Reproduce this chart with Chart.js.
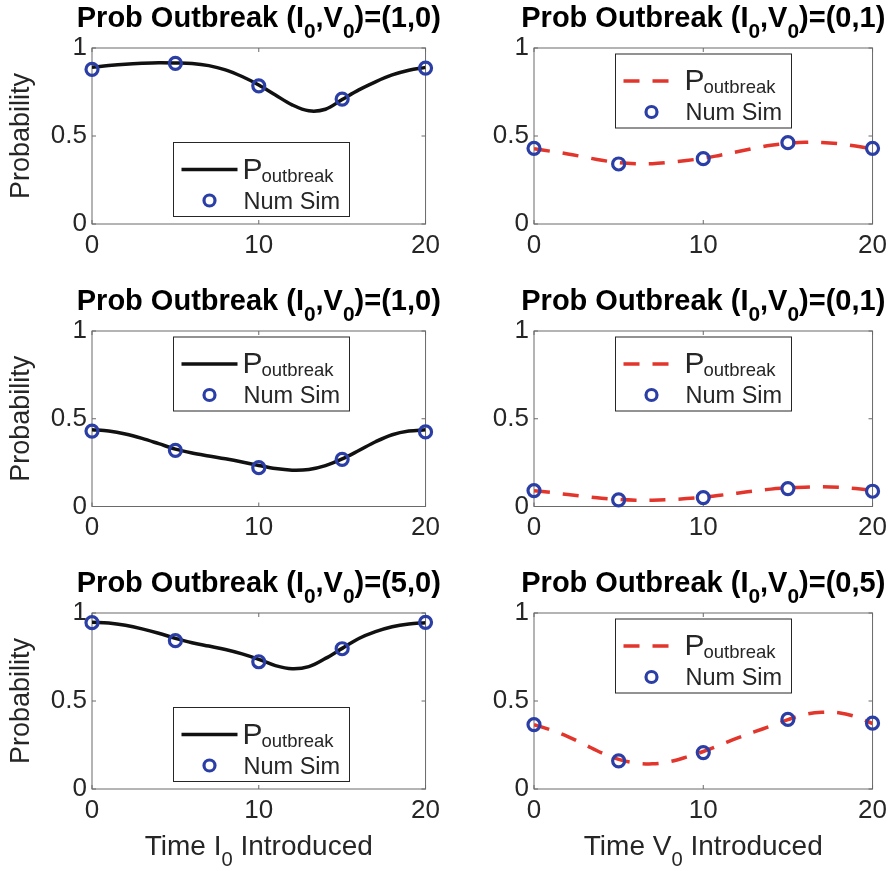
<!DOCTYPE html>
<html>
<head>
<meta charset="utf-8">
<script src="https://cdn.jsdelivr.net/npm/chart.js@4.4.1/dist/chart.umd.min.js"></script>
<style>
  html, body { margin: 0; padding: 0; background: #fff; }
  #fig { position: relative; width: 893px; height: 871px; overflow: hidden; }
  #fig canvas { position: absolute; }
</style>
</head>
<body>
<div id="fig"></div>
<script>
// x positions
const simTimes = [0, 5, 10, 15, 20];
const curveTimes = [0, 1, 2, 3, 4, 5, 6, 7, 8, 9, 10, 11, 12, 13, 14, 15, 16, 17, 18, 19, 20];

// (I0,V0)=(1,0), top left
const curveA = [0.890, 0.900, 0.908, 0.913, 0.916, 0.915, 0.912, 0.900, 0.876, 0.838, 0.790, 0.733, 0.677, 0.643, 0.652, 0.707, 0.762, 0.808, 0.847, 0.874, 0.890];
const simA = [0.879, 0.913, 0.785, 0.710, 0.886];
// (0,1), top right
const curveB = [0.427, 0.413, 0.398, 0.380, 0.362, 0.349, 0.343, 0.343, 0.351, 0.361, 0.373, 0.391, 0.410, 0.430, 0.447, 0.458, 0.464, 0.463, 0.456, 0.443, 0.426];
const simB = [0.430, 0.341, 0.371, 0.462, 0.430];
// (1,0), middle left
const curveC = [0.438, 0.430, 0.413, 0.388, 0.358, 0.327, 0.305, 0.288, 0.272, 0.254, 0.234, 0.216, 0.207, 0.211, 0.233, 0.271, 0.319, 0.369, 0.409, 0.430, 0.437];
const simC = [0.430, 0.320, 0.221, 0.269, 0.425];
// (0,1), middle right
const curveD = [0.090, 0.080, 0.068, 0.057, 0.047, 0.040, 0.036, 0.036, 0.039, 0.045, 0.052, 0.064, 0.076, 0.088, 0.099, 0.106, 0.110, 0.112, 0.109, 0.102, 0.092];
const simD = [0.091, 0.038, 0.051, 0.102, 0.087];
// (5,0), bottom left
const curveE = [0.948, 0.943, 0.930, 0.910, 0.885, 0.856, 0.831, 0.812, 0.793, 0.768, 0.737, 0.701, 0.683, 0.695, 0.742, 0.799, 0.855, 0.894, 0.922, 0.938, 0.945];
const simE = [0.945, 0.843, 0.723, 0.797, 0.947];
// (0,5), bottom right
const curveF = [0.366, 0.335, 0.298, 0.252, 0.205, 0.168, 0.148, 0.143, 0.155, 0.181, 0.213, 0.250, 0.289, 0.324, 0.358, 0.394, 0.424, 0.436, 0.433, 0.411, 0.372];
const simF = [0.366, 0.160, 0.207, 0.396, 0.374];

const initPairs = ['(1,0)', '(0,1)', '(1,0)', '(0,1)', '(5,0)', '(0,5)'];
const xTicks = [0, 10, 20];
const yTicks = [0, 0.5, 1];

const FONT = '"Liberation Sans", Arial, Helvetica, sans-serif';
const BLUE = '#2a3ea6';
const RED = '#e2352b';
const BLACK = '#111111';
const AXIS = '#6a6a6a';
const TEXT = '#262626';

// draw text with subscript parts, e.g. [['Time I'], ['0', true], [' Introduced']]
function richText(ctx, parts, x, y, size, weight, align) {
  const subSize = size * 0.72;
  const fontOf = sub => weight + ' ' + (sub ? subSize : size) + 'px ' + FONT;
  let w = 0;
  parts.forEach(p => { ctx.font = fontOf(p[1]); w += ctx.measureText(p[0]).width; });
  let cx = align === 'center' ? x - w / 2 : x;
  ctx.textAlign = 'left';
  ctx.textBaseline = 'alphabetic';
  parts.forEach(p => {
    ctx.font = fontOf(p[1]);
    ctx.fillText(p[0], cx, p[1] ? y + size * 0.38 : y);
    cx += ctx.measureText(p[0]).width;
  });
}

const panelDeco = {
  id: 'panelDeco',
  beforeDatasetsDraw(chart) {
    const { ctx, chartArea: a, scales } = chart;
    ctx.save();
    ctx.strokeStyle = AXIS;
    ctx.lineWidth = 1;
    ctx.strokeRect(a.left, a.top, a.width, a.height);
    // inner tick marks on all four sides
    ctx.beginPath();
    scales.x.ticks.forEach(t => {
      const px = scales.x.getPixelForValue(t.value);
      ctx.moveTo(px, a.bottom); ctx.lineTo(px, a.bottom - 4);
      ctx.moveTo(px, a.top); ctx.lineTo(px, a.top + 4);
    });
    scales.y.ticks.forEach(t => {
      const py = scales.y.getPixelForValue(t.value);
      ctx.moveTo(a.left, py); ctx.lineTo(a.left + 4, py);
      ctx.moveTo(a.right, py); ctx.lineTo(a.right - 4, py);
    });
    ctx.stroke();
    ctx.restore();
  },
  afterDraw(chart, args, opts) {
    const { ctx, chartArea: a } = chart;
    const midX = (a.left + a.right) / 2;
    ctx.save();
    ctx.fillStyle = '#000';
    richText(ctx, [['Prob Outbreak (I'], ['0', true], [',V'], ['0', true], [')=' + opts.pair]],
      midX, a.top - 21, 29, 'bold', 'center');

    ctx.fillStyle = TEXT;
    if (opts.yTitle) {
      ctx.save();
      ctx.translate(22, (a.top + a.bottom) / 2);
      ctx.rotate(-Math.PI / 2);
      ctx.font = '27px ' + FONT;
      ctx.textAlign = 'center';
      ctx.textBaseline = 'middle';
      ctx.fillText('Probability', 0, 0);
      ctx.restore();
    }
    if (opts.xTitle) {
      richText(ctx, [['Time ' + opts.xTitle], ['0', true], [' Introduced']],
        midX, a.bottom + 66, 28, 'normal', 'center');
    }

    // legend box
    const bw = 176, bh = 74;
    const bx = a.left + 81.5;
    const by = opts.legendAt === 'top' ? a.top + 6 : a.bottom - 7.5 - bh;
    ctx.fillStyle = '#fff';
    ctx.fillRect(bx, by, bw, bh);
    ctx.strokeStyle = TEXT;
    ctx.lineWidth = 1;
    ctx.strokeRect(bx, by, bw, bh);

    ctx.strokeStyle = opts.color;
    ctx.lineWidth = 3.5;
    ctx.setLineDash(opts.dash);
    ctx.beginPath();
    ctx.moveTo(bx + 8, by + 27);
    ctx.lineTo(bx + (opts.dash.length ? 53 : 64), by + 27);
    ctx.stroke();
    ctx.setLineDash([]);

    ctx.fillStyle = TEXT;
    ctx.textAlign = 'left';
    ctx.textBaseline = 'alphabetic';
    ctx.font = '30px ' + FONT;
    ctx.fillText('P', bx + 69, by + 36);
    ctx.font = '18.5px ' + FONT;
    ctx.fillText('outbreak', bx + 88, by + 39);

    ctx.strokeStyle = BLUE;
    ctx.lineWidth = 3.2;
    ctx.beginPath();
    ctx.arc(bx + 36, by + 58, 5.5, 0, Math.PI * 2);
    ctx.stroke();

    ctx.font = '23.5px ' + FONT;
    ctx.fillText('Num Sim', bx + 70, by + 66);
    ctx.restore();
  }
};

const panels = [
  { curve: curveA, sim: simA, col: 0, row: 0, legendAt: 'bottom' },
  { curve: curveB, sim: simB, col: 1, row: 0, legendAt: 'top' },
  { curve: curveC, sim: simC, col: 0, row: 1, legendAt: 'top' },
  { curve: curveD, sim: simD, col: 1, row: 1, legendAt: 'top' },
  { curve: curveE, sim: simE, col: 0, row: 2, legendAt: 'bottom' },
  { curve: curveF, sim: simF, col: 1, row: 2, legendAt: 'top' }
];

const colBoxes = [
  { x: 0, w: 446, axisW: 92, padRight: 14 },
  { x: 446, w: 447, axisW: 88, padRight: 20 }
];
const rowBoxes = [
  { y: 0, h: 283, padTop: 48, padBottom: 19 },
  { y: 283, h: 283, padTop: 48, padBottom: 19.5 },
  { y: 566, h: 305, padTop: 47, padBottom: 42 }
];

const fig = document.getElementById('fig');

panels.forEach((p, i) => {
  const cb = colBoxes[p.col], rb = rowBoxes[p.row];
  const canvas = document.createElement('canvas');
  canvas.width = cb.w;
  canvas.height = rb.h;
  canvas.style.left = cb.x + 'px';
  canvas.style.top = rb.y + 'px';
  fig.appendChild(canvas);

  const isLeft = p.col === 0;
  const lineColor = isLeft ? BLACK : RED;
  const dash = isLeft ? [] : [16, 13];

  new Chart(canvas.getContext('2d'), {
    type: 'line',
    data: {
      datasets: [
        {
          label: 'Num Sim',
          data: simTimes.map((t, k) => ({ x: t, y: p.sim[k] })),
          showLine: false,
          pointRadius: 6,
          pointBorderWidth: 3.2,
          pointBorderColor: BLUE,
          pointBackgroundColor: 'rgba(0,0,0,0)',
          clip: false
        },
        {
          label: 'P_outbreak',
          data: curveTimes.map((t, k) => ({ x: t, y: p.curve[k] })),
          borderColor: lineColor,
          borderWidth: 3.5,
          borderDash: dash,
          pointRadius: 0,
          tension: 0.35,
          fill: false
        }
      ]
    },
    options: {
      responsive: false,
      animation: false,
      devicePixelRatio: 1,
      events: [],
      layout: { padding: { top: rb.padTop, bottom: rb.padBottom, left: 0, right: cb.padRight } },
      plugins: {
        legend: { display: false },
        tooltip: { enabled: false },
        panelDeco: {
          pair: initPairs[i],
          legendAt: p.legendAt,
          color: lineColor,
          dash: dash,
          yTitle: isLeft,
          xTitle: p.row === 2 ? (isLeft ? 'I' : 'V') : null
        }
      },
      scales: {
        x: {
          type: 'linear',
          min: 0,
          max: 20,
          afterBuildTicks: s => { s.ticks = xTicks.map(v => ({ value: v })); },
          ticks: { color: TEXT, font: { family: FONT, size: 26 }, padding: 6, maxRotation: 0, callback: v => String(v) },
          grid: { display: false, drawTicks: false },
          border: { display: false },
          afterFit: s => { s.height = 40; }
        },
        y: {
          type: 'linear',
          min: 0,
          max: 1,
          afterBuildTicks: s => { s.ticks = yTicks.map(v => ({ value: v })); },
          ticks: { color: TEXT, font: { family: FONT, size: 26 }, padding: 5, callback: v => String(v) },
          grid: { display: false, drawTicks: false },
          border: { display: false },
          afterFit: s => { s.width = cb.axisW; }
        }
      }
    },
    plugins: [panelDeco]
  });
});
</script>
</body>
</html>
